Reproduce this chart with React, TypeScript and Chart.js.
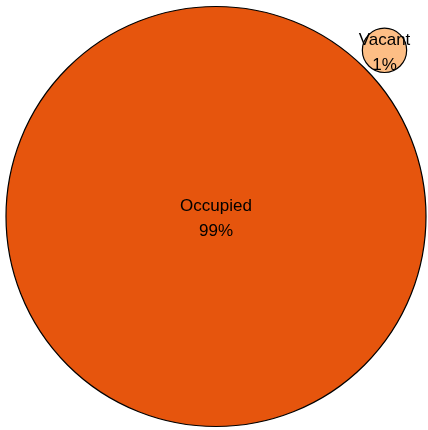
import React, { useEffect, useRef } from "react";
import { Chart, registerables } from "chart.js";

Chart.register(...registerables);

const categories = ["Occupied", "Vacant"];
const shares = [98.9, 1.1];
const colors = ["#E6550D", "#FDBE85"];

const W = 428;
const H = 430;
const MAX_R = 210;
const GAP = 4.5;
const ANGLE = (-44.6 * Math.PI) / 180;
const CENTER = { x: 216, y: 216.5 };

function layout() {
  const maxV = Math.max(...shares);
  const k = MAX_R / Math.sqrt(maxV);
  const radii = shares.map((v) => k * Math.sqrt(v));
  const pts = [{ x: CENTER.x, y: CENTER.y, r: radii[0] }];
  for (let i = 1; i < shares.length; i++) {
    const d = radii[0] + radii[i] + GAP;
    pts.push({ x: CENTER.x + d * Math.cos(ANGLE), y: CENTER.y + d * Math.sin(ANGLE), r: radii[i] });
  }
  return pts;
}

const labelPlugin = {
  id: "bubbleLabels",
  afterDatasetsDraw(chart: any) {
    const ctx = chart.ctx;
    const meta = chart.getDatasetMeta(0);
    ctx.save();
    ctx.fillStyle = "#000";
    ctx.font = '17px "Liberation Sans", Arial, sans-serif';
    ctx.textAlign = "center";
    ctx.textBaseline = "middle";
    meta.data.forEach((el: any, i: number) => {
      ctx.fillText(categories[i], el.x, el.y - 10);
      ctx.fillText(Math.round(shares[i]) + "%", el.x, el.y + 15);
    });
    ctx.restore();
  },
};

export default function App() {
  const ref = useRef<HTMLCanvasElement | null>(null);
  useEffect(() => {
    if (!ref.current) return;
    const chart = new Chart(ref.current, {
      type: "bubble",
      data: {
        labels: categories,
        datasets: [
          {
            data: layout(),
            backgroundColor: colors,
            borderColor: "#000",
            borderWidth: 1.2,
            clip: false as any,
          },
        ],
      },
      options: {
        responsive: false,
        animation: false,
        layout: { padding: 0, autoPadding: false },
        plugins: { legend: { display: false }, tooltip: { enabled: false } },
        scales: {
          x: { type: "linear", min: 0, max: W, display: false },
          y: { type: "linear", min: 0, max: H, reverse: true, display: false },
        },
      },
      plugins: [labelPlugin],
    });
    return () => chart.destroy();
  }, []);
  return (
    <div style={{ position: "absolute", left: 0, top: 0, width: W, height: H, background: "#fff" }}>
      <canvas ref={ref} width={W} height={H} style={{ display: "block" }} />
    </div>
  );
}
